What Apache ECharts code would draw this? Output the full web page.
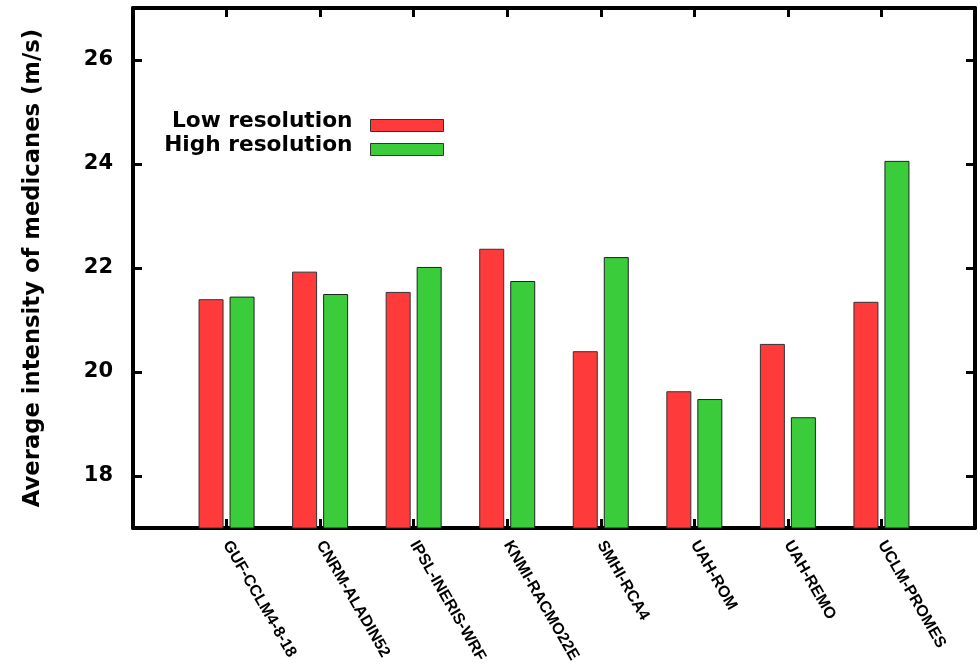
<!DOCTYPE html>
<html>
<head>
<meta charset="utf-8">
<script src="https://cdn.jsdelivr.net/npm/echarts@6/dist/echarts.min.js"></script>
<style>
  html, body { margin: 0; padding: 0; background: #ffffff; }
  #chart { width: 980px; height: 672px; }
</style>
</head>
<body>
<div id="chart"></div>
<script>
// Regional climate models compared
const models = [
  'GUF-CCLM4-8-18', 'CNRM-ALADIN52', 'IPSL-INERIS-WRF', 'KNMI-RACMO22E',
  'SMHI-RCA4', 'UAH-ROM', 'UAH-REMO', 'UCLM-PROMES'
];
// Average medicane intensity (m/s)
const lowRes  = [21.40, 21.93, 21.54, 22.37, 20.40, 19.63, 20.54, 21.35];
const highRes = [21.45, 21.50, 22.02, 21.75, 22.21, 19.48, 19.13, 24.06];
const yTicks = [18, 20, 22, 24, 26];
const modelPos = models.map((_, i) => i + 1);

const chart = echarts.init(document.getElementById('chart'), null, { renderer: 'canvas' });

const frameLine = { show: true, onZero: false, lineStyle: { color: '#000', width: 4 } };
const tickStyle = { inside: true, length: 9, lineStyle: { color: '#000', width: 3 } };

chart.setOption({
  animation: false,
  backgroundColor: '#ffffff',
  grid: { left: 133, right: 5, top: 8, bottom: 144, containLabel: false },
  legend: {
    orient: 'vertical',
    align: 'right',
    right: 536,
    top: 110,
    padding: 0,
    itemGap: -7,
    itemWidth: 73,
    itemHeight: 12,
    icon: 'rect',
    itemStyle: { borderColor: '#333', borderWidth: 1 },
    formatter: '{t|{name}}',
    textStyle: {
      color: '#000',
      rich: {
        t: {
          fontFamily: 'DejaVu Sans', fontWeight: 'bold', fontSize: 21.7, color: '#000',
          lineHeight: 14, padding: [0, 13, 9, 0]
        }
      }
    },
    data: ['Low resolution', 'High resolution']
  },
  xAxis: [
    {
      type: 'value', min: 0, max: 9, position: 'bottom',
      axisLine: frameLine,
      axisTick: Object.assign({ customValues: modelPos }, tickStyle),
      axisLabel: {
        customValues: modelPos,
        rotate: -60,
        margin: 14,
        fontFamily: 'Liberation Sans', fontWeight: 'bold', fontSize: 16, color: '#000',
        formatter: v => models[v - 1] || ''
      },
      splitLine: { show: false }
    },
    {
      type: 'value', min: 0, max: 9, position: 'top',
      axisLine: frameLine,
      axisTick: Object.assign({ customValues: modelPos }, tickStyle),
      axisLabel: { show: false },
      splitLine: { show: false }
    }
  ],
  yAxis: [
    {
      type: 'value', min: 17, max: 27, position: 'left',
      name: 'Average intensity of medicanes (m/s)',
      nameLocation: 'middle',
      nameGap: 88,
      nameTextStyle: { fontFamily: 'DejaVu Sans', fontWeight: 'bold', fontSize: 22.7, color: '#000' },
      axisLine: frameLine,
      axisTick: Object.assign({ customValues: yTicks }, tickStyle),
      axisLabel: {
        customValues: yTicks,
        margin: 20,
        fontFamily: 'DejaVu Sans', fontWeight: 'bold', fontSize: 21, color: '#000'
      },
      splitLine: { show: false }
    },
    {
      type: 'value', min: 17, max: 27, position: 'right',
      axisLine: frameLine,
      axisTick: Object.assign({ customValues: yTicks }, tickStyle),
      axisLabel: { show: false },
      splitLine: { show: false }
    }
  ],
  series: [
    {
      name: 'Low resolution',
      type: 'bar',
      xAxisIndex: 0, yAxisIndex: 0,
      barWidth: 25,
      barGap: '24%',
      itemStyle: { color: '#ff3a3a', borderColor: '#333', borderWidth: 1 },
      data: lowRes.map((v, i) => [modelPos[i], v])
    },
    {
      name: 'High resolution',
      type: 'bar',
      xAxisIndex: 0, yAxisIndex: 0,
      barWidth: 25,
      barGap: '24%',
      itemStyle: { color: '#3acc3a', borderColor: '#222', borderWidth: 1 },
      data: highRes.map((v, i) => [modelPos[i], v])
    }
  ]
});
</script>
</body>
</html>
